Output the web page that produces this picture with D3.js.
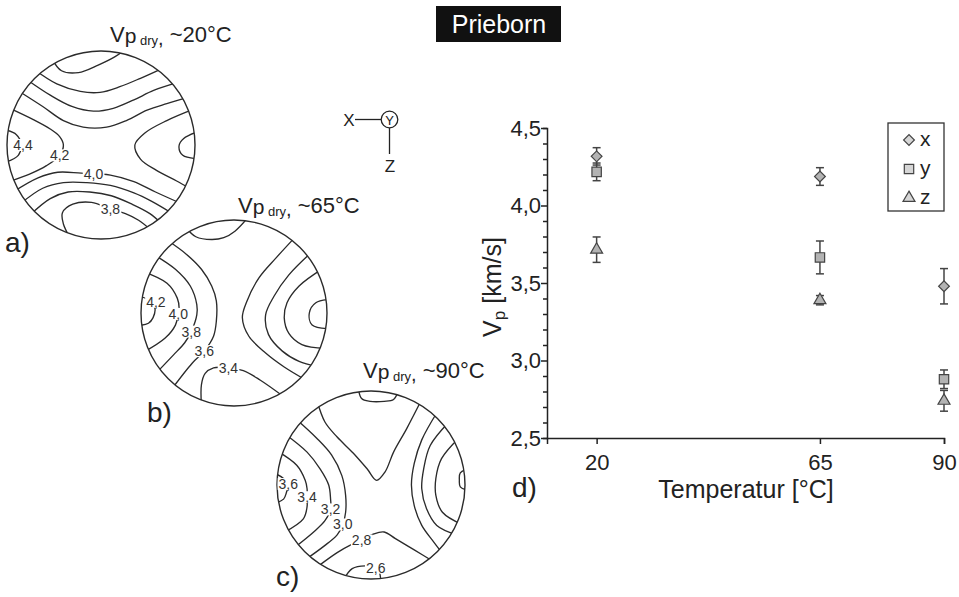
<!DOCTYPE html>
<html><head><meta charset="utf-8">
<script src="https://cdn.jsdelivr.net/npm/d3@7"></script>
<style>
body{margin:0;background:#fff}
svg{display:block}
text{font-family:"Liberation Sans",Arial,Helvetica,sans-serif}
</style>
</head><body>
<svg id="chart" width="959" height="597"></svg>
<script>
// P-wave velocity (km/s) of dry Prieborn samples by measuring direction
const temperatures = [20, 65, 90];
const vpX  = [4.317, 4.187, 3.479];
const errX = [0.056, 0.057, 0.114];
const vpY  = [4.217, 3.665, 2.879];
const errY = [0.057, 0.106, 0.060];
const vpZ  = [3.715, 3.389, 2.740];
const errZ = [0.082, 0.030, 0.067];
const seriesNames = ["x", "y", "z"];
const yTickValues = [2.5, 3.0, 3.5, 4.0, 4.5];
const xTickValues = [20, 65, 90];

// Velocity isolines of the three stereographic plots (unit circle radius = 100)
const isolines20 = [
  [[-50,-88],[-42,-79],[-24,-77],[-3,-85],[15,-94],[26,-97]],
  [[-66,-75],[-47,-65],[-22,-57],[-1,-56],[20,-62],[42,-71],[64,-78]],
  [[-75,-66],[-54,-53],[-31,-41],[-8,-36],[13,-39],[35,-48],[56,-58],[78,-63]],
  [[-84,-55],[-62,-41],[-40,-26],[-19,-19],[6,-19],[27,-26],[49,-37],[70,-44],[88,-48]],
  [[-92,-37],[-72,-27],[-54,-17],[-44,-9],[-40,0],[-44,11],[-58,22],[-76,31],[-93,37]],
  [[-99,-16],[-90,-11],[-85,-1],[-88,11],[-98,18]],
  [[93,-36],[70,-26],[47,-13],[36,0],[42,15],[59,27],[80,38],[90,44]],
  [[99,-14],[88,-7],[83,1],[87,11],[99,14]],
  [[-88,47],[-67,35],[-46,29],[-21,30],[10,32],[35,39],[58,50],[81,59]],
  [[-81,59],[-62,46],[-40,40],[-15,40],[10,43],[35,51],[54,60],[72,69]],
  [[-71,70],[-54,57],[-35,50],[-12,50],[11,54],[33,63],[52,73],[61,79]],
  [[-30,95],[-40,84],[-41,72],[-30,63],[-10,61],[10,68],[26,73],[40,80],[51,86]]
];
const isoLabels20 = [["4,4",-83,0],["4,2",-44,11],["4,0",-8,31],["3,8",10,68]];

const isolines65 = [
  [[-49,-87],[-41,-82],[-24,-79],[-11,-81],[1,-88],[16,-99]],
  [[-99,-18],[-90,-13],[-85,-5],[-87,5],[-92,11],[-99,13]],
  [[-92,-42],[-72,-32],[-61,-16],[-59,-5],[-60,1],[-63,13],[-74,27],[-92,40]],
  [[-81,-59],[-63,-47],[-47,-29],[-40,-9],[-40,2],[-46,20],[-53,32],[-65,45],[-79,61]],
  [[-68,-74],[-51,-63],[-35,-47],[-24,-29],[-19,-13],[-19,9],[-22,25],[-32,41],[-45,54],[-63,77]],
  [[-33,94],[-35,77],[-31,65],[-22,59],[-6,59],[10,62],[28,72],[52,86]],
  [[63,-78],[45,-59],[27,-38],[14,-13],[9,5],[16,25],[34,43],[54,58],[73,68]],
  [[79,-62],[59,-41],[43,-18],[34,2],[37,23],[52,41],[70,52],[84,54]],
  [[90,-45],[70,-29],[57,-11],[54,5],[59,22],[73,34],[93,36]],
  [[99,-14],[88,-11],[81,0],[84,13],[99,16]]
];
const isoLabels65 = [["4,2",-84,-12],["4,0",-60,1],["3,8",-46,20],["3,6",-32,41],["3,4",-6,59]];

const isolines90 = [
  [[-13,-99],[-10,-92],[-1,-89],[14,-89],[24,-91],[28,-96]],
  [[-99,-13],[-93,-7],[-88,-1],[-90,8],[-93,15],[-98,19]],
  [[-94,-34],[-79,-21],[-70,-5],[-68,4],[-68,13],[-68,23],[-72,36],[-88,48]],
  [[-86,-51],[-68,-35],[-54,-17],[-45,0],[-43,15],[-43,26],[-49,38],[-61,50],[-77,63]],
  [[-75,-66],[-58,-50],[-42,-32],[-31,-10],[-27,11],[-27,29],[-30,42],[-36,53],[-50,65],[-66,75]],
  [[-54,-84],[-49,-67],[-36,-51],[-19,-34],[-4,-17],[6,-5],[15,-14],[24,-35],[38,-60],[51,-86]],
  [[-55,83],[-36,72],[-22,64],[-10,59],[3,52],[14,50],[26,57],[46,69],[63,77]],
  [[-28,96],[-20,89],[-6,86],[5,88],[9,93],[10,99]],
  [[67,-74],[54,-48],[46,-23],[43,0],[46,22],[54,43],[67,61],[72,69]],
  [[78,-63],[63,-42],[56,-17],[54,4],[59,25],[70,43],[86,50]],
  [[88,-47],[75,-28],[69,-7],[69,11],[76,29],[92,40]],
  [[99,-17],[95,-13],[94,-5],[95,2],[99,6]]
];
const isoLabels90 = [["3,6",-88,-1],["3,4",-68,13],["3,2",-43,26],["3,0",-30,42],["2,8",-10,59],["2,6",5,88]];

const ink = "#222";
const svg = d3.select("#chart");
svg.append("rect").attr("width",959).attr("height",597).attr("fill","#fff");
const defs = svg.append("defs");

// ---------- stereographic plots ----------
function stereonet(id, cx, cy, r, lines, labels) {
  const sx = d3.scaleLinear([-100, 100], [cx - r, cx + r]);
  const sy = d3.scaleLinear([-100, 100], [cy - r, cy + r]);
  defs.append("clipPath").attr("id", id)
    .append("circle").attr("cx", cx).attr("cy", cy).attr("r", r);
  // push open ends past the rim so they meet the outline cleanly
  const extend = pts => pts.map((p, i) => {
    if (i !== 0 && i !== pts.length - 1) return p;
    const m = Math.hypot(p[0], p[1]);
    return m > 85 ? [p[0] * 1.06, p[1] * 1.06] : p;
  });
  const line = d3.line().x(d => sx(d[0])).y(d => sy(d[1]))
    .curve(d3.curveCatmullRom.alpha(0.5));
  const g = svg.append("g");
  g.append("g").attr("clip-path", `url(#${id})`)
    .selectAll("path").data(lines).join("path")
    .attr("d", d => line(extend(d)))
    .attr("fill", "none").attr("stroke", "#2b2b2b").attr("stroke-width", 1.35);
  g.append("circle").attr("cx", cx).attr("cy", cy).attr("r", r)
    .attr("fill", "none").attr("stroke", "#2b2b2b").attr("stroke-width", 1.4);
  const lg = g.append("g").attr("clip-path", `url(#${id})`);
  labels.forEach(([t, u, v]) => {
    const txt = lg.append("text").attr("x", sx(u)).attr("y", sy(v) + 5)
      .attr("text-anchor", "middle").attr("font-size", 14).attr("fill", "#333").text(t);
    const b = txt.node().getBBox();
    lg.insert("rect", "text").attr("x", b.x - 1).attr("y", b.y + 2)
      .attr("width", b.width + 2).attr("height", b.height - 4).attr("fill", "#fff");
  });
}
stereonet("s20", 101, 145, 94, isolines20, isoLabels20);
stereonet("s65", 234, 313, 93, isolines65, isoLabels65);
stereonet("s90", 371, 485, 94, isolines90, isoLabels90);

function plotTitle(x, y, temp) {
  const t = svg.append("text").attr("x", x).attr("y", y).attr("fill", ink);
  t.append("tspan").attr("font-size", 22).text("V");
  t.append("tspan").attr("font-size", 21).attr("dy", 1).text("p");
  t.append("tspan").attr("font-size", 13).attr("dy", 2).text(" dry");
  t.append("tspan").attr("font-size", 20).text(",");
  t.append("tspan").attr("font-size", 22).attr("dy", -3).text(" ~" + temp + "°C");
}
plotTitle(110, 42, temperatures[0]);
plotTitle(238, 213, temperatures[1]);
plotTitle(363, 378, temperatures[2]);

[["a)", 5, 252], ["b)", 147, 422], ["c)", 276, 586], ["d)", 512, 497]].forEach(([t, x, y]) =>
  svg.append("text").attr("x", x).attr("y", y).attr("font-size", 28).attr("fill", ink).text(t));

// ---------- header ----------
svg.append("rect").attr("x", 436).attr("y", 6).attr("width", 125).attr("height", 36).attr("fill", "#111");
svg.append("text").attr("x", 499).attr("y", 33).attr("text-anchor", "middle")
  .attr("font-size", 25).attr("fill", "#fff").text("Prieborn");

// ---------- coordinate system sketch ----------
const cs = svg.append("g").attr("stroke", ink).attr("stroke-width", 1.3).attr("fill", "none");
cs.append("line").attr("x1", 355).attr("y1", 119.5).attr("x2", 381).attr("y2", 119.5);
cs.append("circle").attr("cx", 389.5).attr("cy", 119.5).attr("r", 8.3);
cs.append("line").attr("x1", 389.5).attr("y1", 128).attr("x2", 389.5).attr("y2", 154);
svg.append("text").attr("x", 349).attr("y", 126).attr("text-anchor", "middle").attr("font-size", 17).attr("fill", ink).text("X");
svg.append("text").attr("x", 389.5).attr("y", 124.5).attr("text-anchor", "middle").attr("font-size", 13).attr("fill", ink).text("Y");
svg.append("text").attr("x", 390).attr("y", 172).attr("text-anchor", "middle").attr("font-size", 17).attr("fill", ink).text("Z");

// ---------- d) velocity vs temperature ----------
const x = d3.scaleLinear([10, 90], [547, 944]);
const y = d3.scaleLinear([2.5, 4.5], [438, 128]);
const comma = v => d3.format(".1f")(v).replace(".", ",");

const yAxis = svg.append("g").attr("transform", "translate(547,0)")
  .call(d3.axisLeft(y).tickValues(d3.range(25, 46).map(v => v / 10))
    .tickSize(4).tickFormat(""));
yAxis.selectAll(".tick line").filter(d => yTickValues.some(t => Math.abs(t - d) < 1e-6)).attr("x2", -6);
const yLab = svg.append("g").attr("transform", "translate(547,0)")
  .call(d3.axisLeft(y).tickValues(yTickValues).tickSize(0).tickPadding(6).tickFormat(comma));
yLab.select(".domain").remove();
yLab.selectAll("text").attr("font-size", 22).attr("fill", ink)
  .attr("font-family", '"Liberation Sans",Arial,sans-serif');

const xAxis = svg.append("g").attr("transform", "translate(0,438)")
  .call(d3.axisBottom(x).tickValues(xTickValues).tickSize(6).tickPadding(10).tickFormat(d3.format("d")));
xAxis.selectAll("text").attr("font-size", 22).attr("fill", ink)
  .attr("font-family", '"Liberation Sans",Arial,sans-serif');
svg.selectAll(".domain, .tick line").attr("stroke", ink).attr("stroke-width", 1.5);

svg.append("text").attr("x", 746).attr("y", 498).attr("text-anchor", "middle")
  .attr("font-size", 25).attr("fill", ink).text("Temperatur [°C]");
const yt = svg.append("text").attr("transform", "translate(501,287) rotate(-90)")
  .attr("text-anchor", "middle").attr("font-size", 25).attr("fill", ink);
yt.append("tspan").text("V");
yt.append("tspan").attr("font-size", 17).attr("dy", 4).text("p");
yt.append("tspan").attr("dy", -4).text(" [km/s]");

const series = [
  { name: seriesNames[0], v: vpX, e: errX, sym: d3.symbolSquare, size: 58, rot: 45 },
  { name: seriesNames[1], v: vpY, e: errY, sym: d3.symbolSquare, size: 88, rot: 0 },
  { name: seriesNames[2], v: vpZ, e: errZ, sym: d3.symbolTriangle, size: 62, rot: 0 }
];
const markFill = "#b3b3b3", markStroke = "#444";

const bars = svg.append("g").attr("stroke", markStroke).attr("stroke-width", 1.5);
series.forEach(s => {
  temperatures.forEach((t, i) => {
    const lo = y(s.v[i] - s.e[i]), hi = y(s.v[i] + s.e[i]), cx = x(t);
    bars.append("line").attr("x1", cx).attr("x2", cx).attr("y1", lo).attr("y2", hi);
    bars.append("line").attr("x1", cx - 4).attr("x2", cx + 4).attr("y1", lo).attr("y2", lo);
    bars.append("line").attr("x1", cx - 4).attr("x2", cx + 4).attr("y1", hi).attr("y2", hi);
  });
});
series.forEach(s => {
  svg.append("g").selectAll("path").data(temperatures).join("path")
    .attr("d", d3.symbol(s.sym, s.size))
    .attr("transform", (t, i) => `translate(${x(t)},${y(s.v[i])}) rotate(${s.rot})`)
    .attr("fill", markFill).attr("stroke", markStroke).attr("stroke-width", 1.2);
});

// legend
const lgd = svg.append("g");
lgd.append("rect").attr("x", 888).attr("y", 123).attr("width", 56).attr("height", 88)
  .attr("fill", "#fff").attr("stroke", "#333").attr("stroke-width", 1.3);
series.forEach((s, i) => {
  const cy = 140 + i * 29;
  lgd.append("path").attr("d", d3.symbol(s.sym, s.size))
    .attr("transform", `translate(909,${cy}) rotate(${s.rot})`)
    .attr("fill", "#d6d6d6").attr("stroke", markStroke).attr("stroke-width", 1.2);
  lgd.append("text").attr("x", 920).attr("y", cy + 6).attr("font-size", 21).attr("fill", ink).text(s.name);
});
</script>
</body></html>
